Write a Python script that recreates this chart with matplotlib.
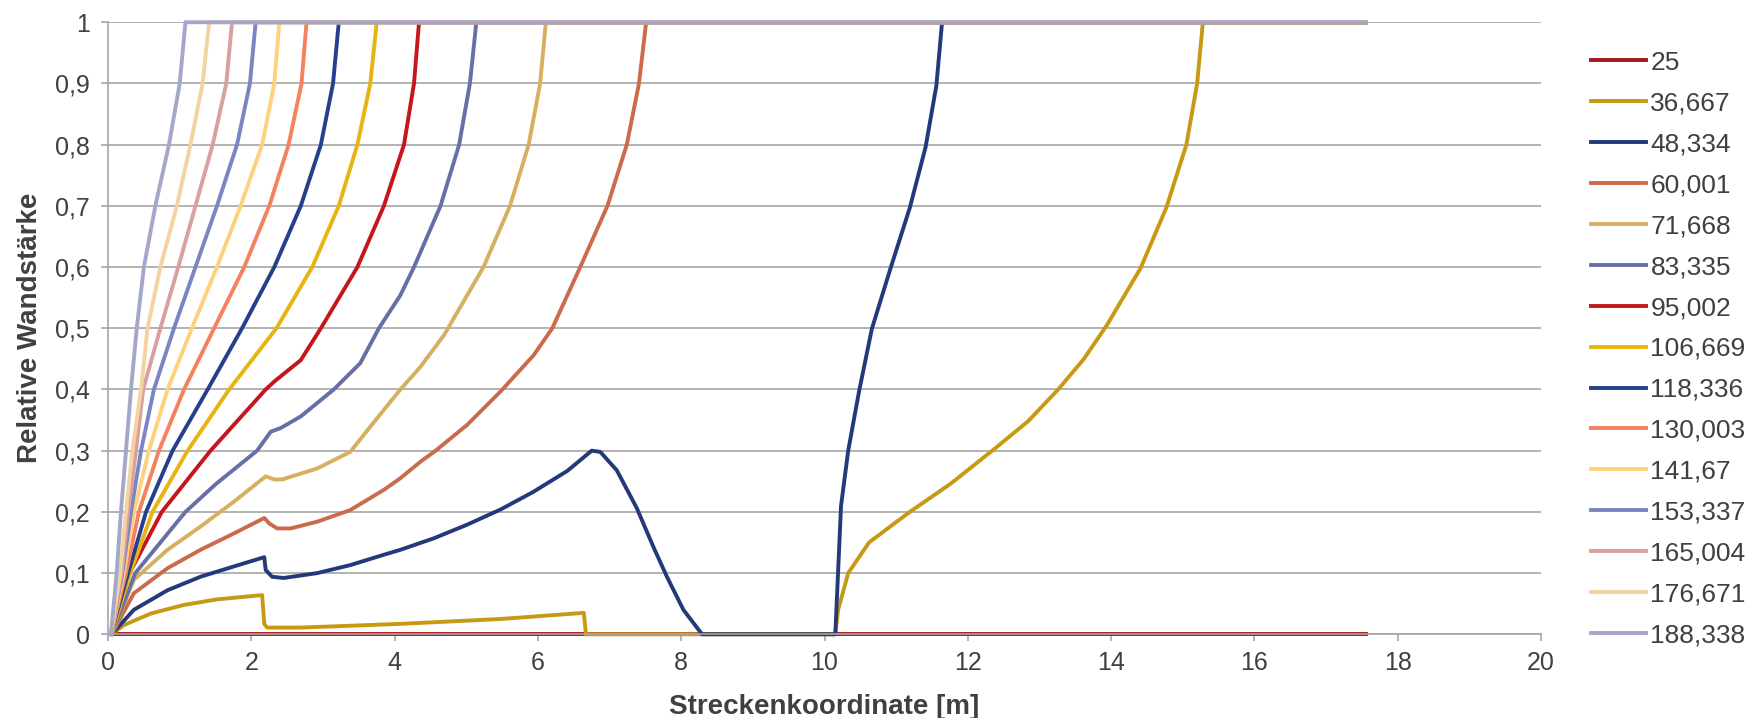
import numpy as np
import matplotlib
matplotlib.use("Agg")
import matplotlib.pyplot as plt
from matplotlib.ticker import FuncFormatter

plt.rcParams['font.family'] = ['Liberation Sans', 'DejaVu Sans']

# legend labels (Excel series names)
labels = ["25", "36,667", "48,334", "60,001", "71,668", "83,335", "95,002",
          "106,669", "118,336", "130,003", "141,67", "153,337", "165,004",
          "176,671", "188,338"]

colors = ["#A6171C", "#C89A14", "#23397A", "#CC6B4C", "#D6B060", "#6670A6",
          "#C4161C", "#E8B411", "#263F8C", "#F4825E", "#FDD27A", "#7A86C4",
          "#D9A0A0", "#F4D3A0", "#A3A8C8"]

# values, one x / y list per series
x_25 = [0.05, 17.55]
y_25 = [0.0, 0.0]

x_36 = [0.05, 0.22, 0.6, 1.06, 1.52, 2.15, 2.18, 2.22, 2.69, 4.08, 5.48, 6.64, 6.67,
        10.15, 10.17, 10.19, 10.33, 10.62, 11.19, 11.76, 12.34, 12.84, 13.26, 13.62,
        13.94, 14.41, 14.77, 15.05, 15.2, 15.28, 17.55]
y_36 = [0.0, 0.015, 0.034, 0.048, 0.057, 0.064, 0.017, 0.011, 0.011, 0.017, 0.025, 0.035, 0.0,
        0.0, 0.02, 0.04, 0.10, 0.15, 0.2, 0.246, 0.3, 0.348, 0.4, 0.45,
        0.505, 0.598, 0.697, 0.8, 0.9, 1.0, 1.0]

x_48 = [0.05, 0.36, 0.83, 1.29, 1.76, 2.18, 2.2, 2.29, 2.45, 2.92, 3.38, 3.85, 4.08,
        4.55, 5.01, 5.48, 5.94, 6.41, 6.75, 6.87, 7.1, 7.38, 7.61, 7.8, 8.03, 8.29,
        10.15, 10.23, 10.33, 10.48, 10.66, 10.91, 11.19, 11.41, 11.56, 11.64, 17.55]
y_48 = [0.0, 0.040, 0.072, 0.094, 0.111, 0.126, 0.105, 0.094, 0.092, 0.10, 0.113, 0.13, 0.138,
        0.157, 0.179, 0.204, 0.233, 0.267, 0.30, 0.298, 0.268, 0.206, 0.143, 0.094, 0.04, 0.0,
        0.0, 0.21, 0.30, 0.396, 0.499, 0.594, 0.697, 0.796, 0.896, 1.0, 1.0]

x_60 = [0.05, 0.36, 0.83, 1.29, 1.76, 2.18, 2.25, 2.36, 2.55, 2.92, 3.38, 3.85, 4.08,
        4.36, 4.55, 5.01, 5.48, 5.94, 6.2, 6.59, 6.97, 7.24, 7.41, 7.51, 17.55]
y_60 = [0.0, 0.067, 0.108, 0.138, 0.165, 0.19, 0.181, 0.173, 0.173, 0.184, 0.203, 0.236, 0.255,
        0.282, 0.298, 0.342, 0.397, 0.456, 0.5, 0.6, 0.7, 0.8, 0.9, 1.0, 1.0]

x_71 = [0.05, 0.36, 0.83, 1.29, 1.76, 2.2, 2.32, 2.43, 2.92, 3.38, 3.7, 4.08, 4.36,
        4.69, 5.24, 5.61, 5.87, 6.03, 6.11, 17.55]
y_71 = [0.0, 0.089, 0.138, 0.176, 0.217, 0.258, 0.253, 0.253, 0.271, 0.298, 0.345, 0.4, 0.437,
        0.489, 0.6, 0.7, 0.8, 0.9, 1.0, 1.0]

x_83 = [0.05, 0.38, 1.08, 1.5, 2.08, 2.27, 2.41, 2.69, 3.15, 3.52, 3.78, 4.08, 4.27,
        4.64, 4.9, 5.05, 5.14, 17.55]
y_83 = [0.0, 0.1, 0.2, 0.245, 0.3, 0.331, 0.337, 0.356, 0.4, 0.443, 0.5, 0.554, 0.6,
        0.7, 0.8, 0.9, 1.0, 1.0]

x_95 = [0.05, 0.3, 0.75, 1.43, 2.2, 2.32, 2.69, 2.97, 3.48, 3.85, 4.13, 4.27, 4.34, 17.55]
y_95 = [0.0, 0.1, 0.2, 0.3, 0.4, 0.413, 0.448, 0.5, 0.6, 0.7, 0.8, 0.9, 1.0, 1.0]

x_106 = [0.05, 0.31, 0.62, 1.11, 1.69, 2.35, 2.85, 3.22, 3.48, 3.66, 3.75, 17.55]
x_118 = [0.04, 0.28, 0.53, 0.9, 1.39, 1.87, 2.32, 2.69, 2.97, 3.14, 3.22, 17.55]
x_130 = [0.04, 0.25, 0.43, 0.71, 1.06, 1.48, 1.9, 2.25, 2.52, 2.70, 2.77, 17.55]
x_141 = [0.04, 0.22, 0.36, 0.57, 0.83, 1.17, 1.52, 1.85, 2.15, 2.32, 2.39, 17.55]
x_153 = [0.04, 0.2, 0.32, 0.46, 0.64, 0.92, 1.22, 1.52, 1.80, 1.98, 2.06, 17.55]
x_165 = [0.04, 0.19, 0.28, 0.39, 0.49, 0.73, 0.98, 1.22, 1.46, 1.65, 1.73, 17.55]
x_176 = [0.04, 0.17, 0.25, 0.34, 0.46, 0.55, 0.73, 0.96, 1.15, 1.32, 1.41, 17.55]
x_188 = [0.04, 0.12, 0.18, 0.25, 0.32, 0.4, 0.5, 0.66, 0.85, 1.0, 1.08, 17.55]
# the fast series are read at the grid lines 0 .. 1
y_grid = [0.0, 0.1, 0.2, 0.3, 0.4, 0.5, 0.6, 0.7, 0.8, 0.9, 1.0, 1.0]

xs = [x_25, x_36, x_48, x_60, x_71, x_83, x_95,
      x_106, x_118, x_130, x_141, x_153, x_165, x_176, x_188]
ys = [y_25, y_36, y_48, y_60, y_71, y_83, y_95] + [y_grid] * 8

fig = plt.figure(figsize=(17.6, 7.18), dpi=100)
ax = fig.add_axes([0.0614, 0.1166, 0.8142, 0.8524])

for x, y, c, lab in zip(xs, ys, colors, labels):
    ax.plot(x, y, color=c, lw=2.8, label=lab, clip_on=False,
            solid_joinstyle='round')

ax.set_xlim(0, 20)
ax.set_ylim(0, 1)
ax.set_xticks(np.arange(0, 21, 2))
ax.set_yticks(np.arange(0, 1.01, 0.1))
ax.yaxis.set_major_formatter(FuncFormatter(lambda v, p: ("%g" % round(v, 1)).replace('.', ',')))

ax.grid(axis='y', color='#A6A6A6', lw=1.2)
ax.set_axisbelow(True)
for s in ['top', 'right']:
    ax.spines[s].set_visible(False)
for s in ['left', 'bottom']:
    ax.spines[s].set_color('#A6A6A6')
    ax.spines[s].set_linewidth(1.2)
ax.tick_params(axis='both', colors='#A6A6A6', labelcolor='#404040',
               labelsize=18, length=5, width=1.2)
ax.tick_params(axis='x', pad=7)
ax.tick_params(axis='y', pad=8)

ax.set_xlabel("Streckenkoordinate [m]", fontsize=20, fontweight='bold',
              color='#404040', labelpad=14)
ax.set_ylabel("Relative Wandstärke", fontsize=20, fontweight='bold',
              color='#404040', labelpad=9)

fig.legend(loc='center left', bbox_to_anchor=(0.904, 0.514), frameon=False,
           fontsize=19, handlelength=2.1, handletextpad=0.15, labelspacing=0.64,
           borderpad=0, borderaxespad=0, labelcolor='#404040')

fig.savefig("out.png", dpi=100)
